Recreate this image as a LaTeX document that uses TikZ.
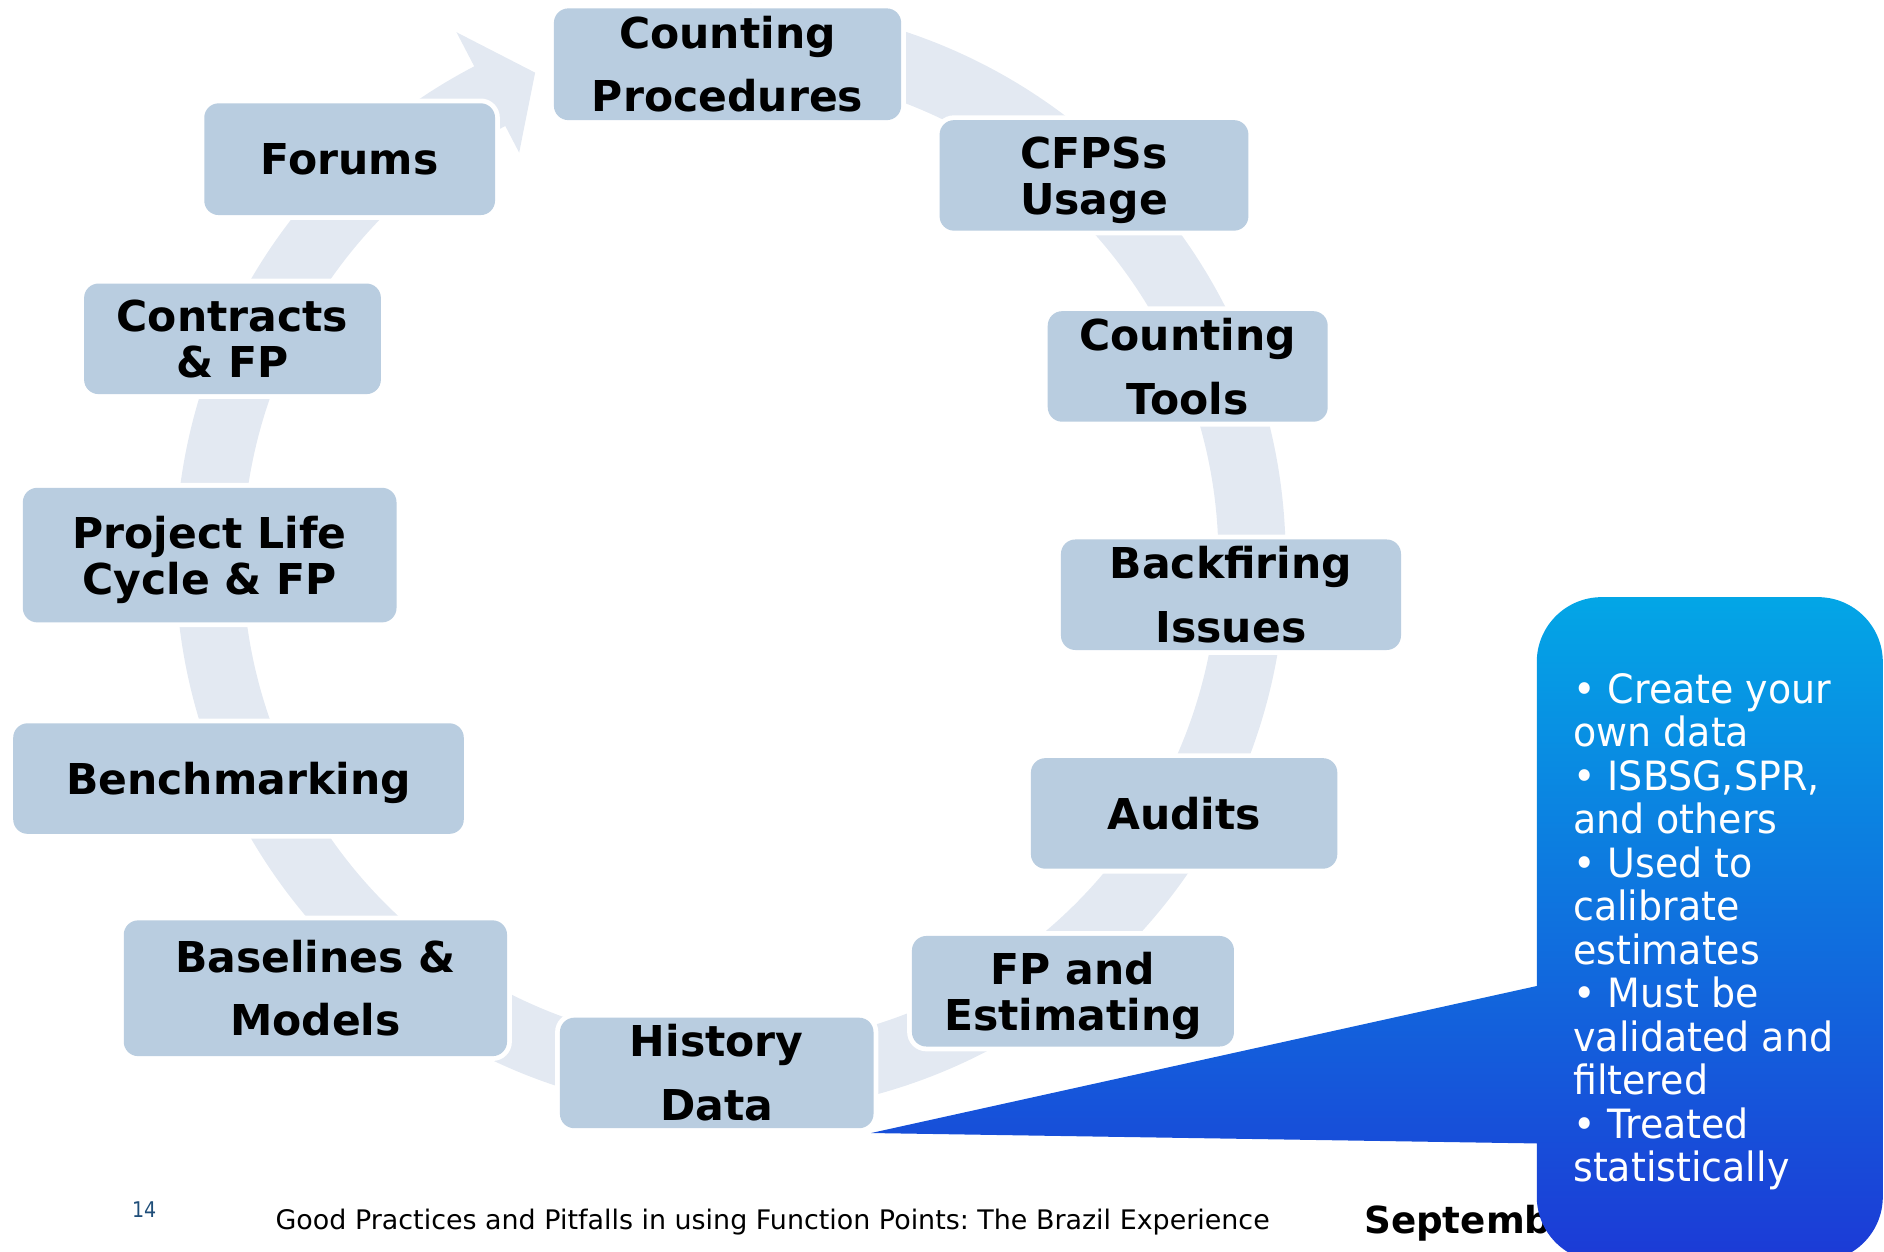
\documentclass[tikz,border=0pt]{standalone}
\usepackage{fontspec}
\setmainfont{DejaVu Sans}
\newfontfamily\tahoma[FakeStretch=0.88]{DejaVu Sans}
\newfontfamily\calloutfont[FakeStretch=0.94]{DejaVu Sans}
\definecolor{boxfill}{HTML}{B9CDE0}
\definecolor{ringcol}{HTML}{E3E9F2}
\definecolor{cotop}{HTML}{03A6E6}
\definecolor{cobot}{HTML}{1C3AD6}
\definecolor{pgnum}{HTML}{1F4E79}
\tikzset{
  stepbox/.style={rounded corners=6pt, fill=boxfill,
    preaction={draw=white, line width=4pt},
    font=\fontsize{17.7}{19}\selectfont\bfseries, align=center,
    inner sep=0pt, text=black},
  nodesc/.style={text depth=0pt},
  bsize/.style 2 args={minimum width=#1*0.5pt, minimum height=#2*0.5pt},
}
\begin{document}
\begin{tikzpicture}[x=0.5pt,y=0.5pt]
\useasboundingbox (0,0) rectangle (1568,1042);
\clip (0,0) rectangle (1568,1042);
% circular arrow
\fill[ringcol, shift={(608,577)}]
  (88:462) arc[start angle=88, end angle=-242.5, radius=462]
  -- (-242.5:494) -- (-248.1:436) -- (-242.5:381) -- (-242.5:406)
  arc[start angle=-242.5, end angle=88, radius=406] -- cycle;
% boxes
\node (cp)    [stepbox, bsize={289}{93}]  at (605.5,988.5) {Counting\\[7.5pt]Procedures};
\node (cfps)  [stepbox, nodesc, bsize={257}{92}]  at (910.5,896)   {CFPSs\\Usage};
\node (ct)    [stepbox, bsize={233}{92}]  at (988.5,737)   {Counting\\[7.5pt]Tools};
\node (bf)    [stepbox, bsize={283}{92}]  at (1024.5,547)  {Backfiring\\[7.5pt]Issues};
\node (au)    [stepbox, bsize={255}{92}]  at (985.5,365)   {Audits};
\node (fpe)   [stepbox, nodesc, bsize={268}{92}]  at (893,217)     {FP and\\Estimating};
\node (hd)    [stepbox, bsize={261}{92}]  at (596.5,149)   {History\\[7.5pt]Data};
\node (bm)    [stepbox, bsize={319}{113}] at (262.5,219.5) {Baselines \&\\[7.5pt]Models};
\node (bench) [stepbox, nodesc, bsize={375}{92}]  at (198.5,394)   {Benchmarking};
\node (plc)   [stepbox, nodesc, bsize={311}{112}] at (174.5,580)   {Project Life\\Cycle \& FP};
\node (cfp)   [stepbox, bsize={247}{92}]  at (193.5,760)   {Contracts\\\& FP};
\node (fo)    [stepbox, bsize={242}{93}]  at (291,909.5)   {Forums};
% footer
\node (pg) [text=pgnum, font=\tahoma\fontsize{9}{10}\selectfont] at (120,35) {14};
\node (foot) [font=\fontsize{11.2}{13}\selectfont, anchor=west, inner sep=0pt] at (229,25)
  {Good Practices and Pitfalls in using Function Points:\ The Brazil Experience};
\node (sept) [font=\bfseries\fontsize{15.5}{17}\selectfont, anchor=west, inner sep=0pt] at (1135,24) {September};
% callout
\shade[top color=cotop, bottom color=cobot]
  [rounded corners=27pt] (1279,-8) rectangle (1567,545)
  [sharp corners] (1300,90) -- (725,99) -- (1300,226) -- cycle;
\node (ctext) [anchor=north west, align=left, text=white, inner sep=0pt,
  font=\calloutfont\fontsize{16.8}{18.1}\selectfont] at (1309,482)
  {• Create your\\own data\\• ISBSG,SPR,\\and others\\• Used to\\calibrate\\estimates\\• Must be\\validated and\\filtered\\• Treated\\statistically};
\end{tikzpicture}
\end{document}
